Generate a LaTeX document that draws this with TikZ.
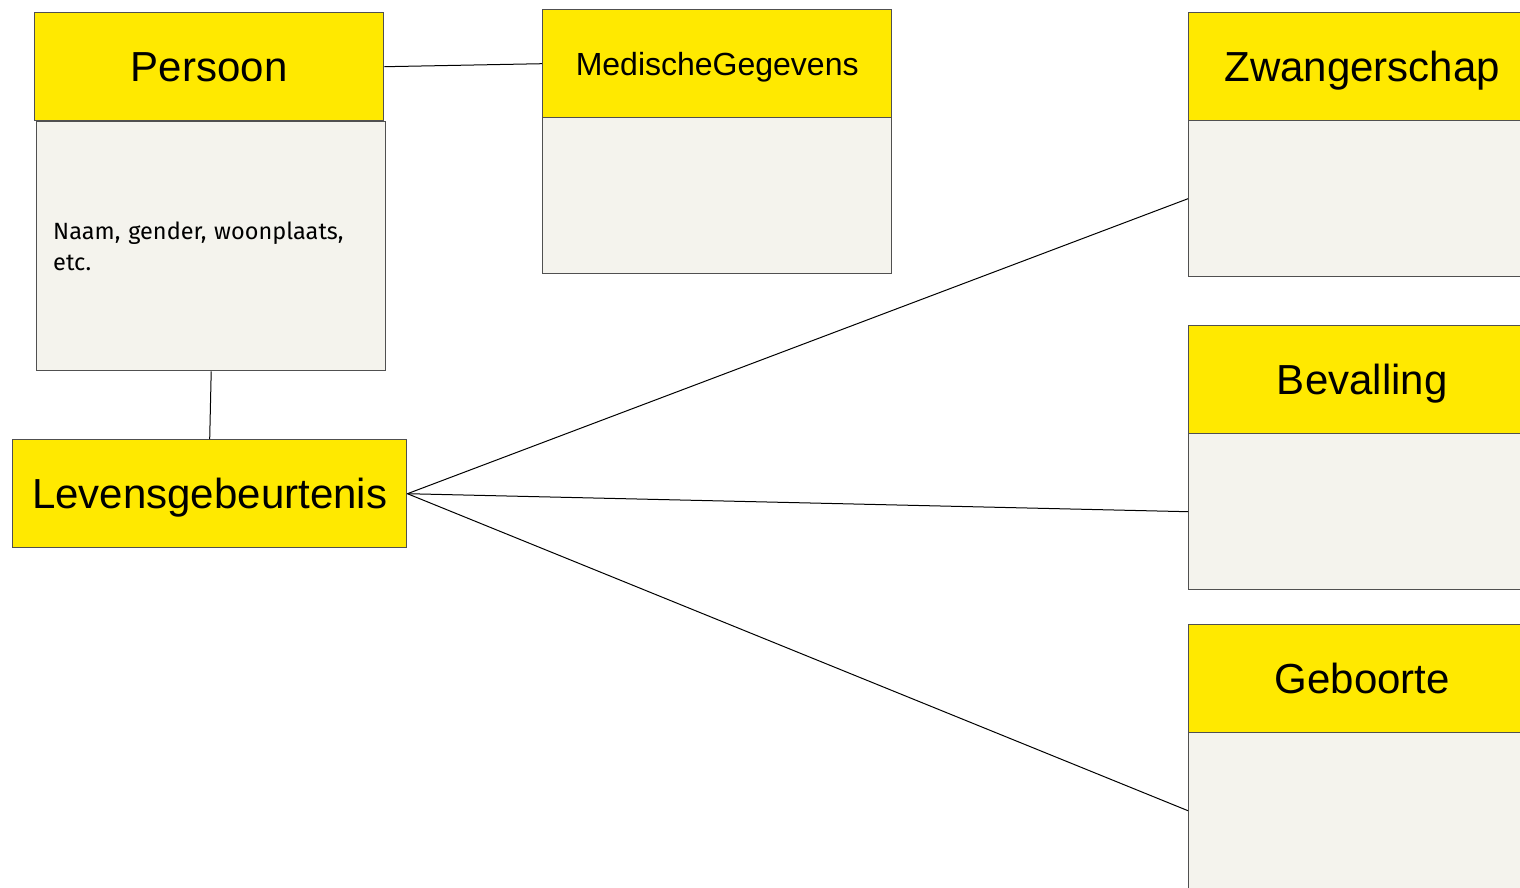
\documentclass[tikz,border=0pt]{standalone}
\usepackage{fontspec}
\setmainfont{Liberation Sans}
\newfontfamily\bodyfont{Fira Sans}
\definecolor{hdr}{HTML}{FFE900}
\definecolor{bdy}{HTML}{F4F3ED}
\definecolor{brd}{HTML}{505050}
\begin{document}
\begin{tikzpicture}[x=1pt,y=-1pt,
  hdrbox/.style={draw=brd,line width=1.4pt,fill=hdr,anchor=north west,inner sep=0pt,text depth=0pt,minimum width=#1,minimum height=108pt},
  bdybox/.style={draw=brd,line width=1.4pt,fill=bdy,anchor=north west,inner sep=0pt,minimum width=349pt},
  conn/.style={draw=black,line width=1pt}]
\useasboundingbox (0,0) rectangle (1520,887);
% Persoon
\node[bdybox,minimum height=249pt] (persb) at (36,121) {};
\node[hdrbox=349pt,font=\fontsize{42}{48}\selectfont] (pers) at (34,12) {Persoon};
\node[anchor=north west,align=left,text width=320pt,font=\bodyfont\fontsize{23.5}{31}\selectfont,inner sep=0pt] (perst) at (53,222) {Naam, gender, woonplaats,\\etc.};
% MedischeGegevens
\node[bdybox,minimum height=156pt] (medb) at (542,117) {};
\node[hdrbox=349pt,font=\fontsize{32}{38}\selectfont] (med) at (542,9) {MedischeGegevens};
% Zwangerschap
\node[bdybox,minimum height=156pt] (zwb) at (1188,120) {};
\node[hdrbox=347pt,font=\fontsize{42}{48}\selectfont] (zw) at (1188,12) {Zwangerschap};
% Bevalling
\node[bdybox,minimum height=156pt] (bevb) at (1188,433) {};
\node[hdrbox=347pt,font=\fontsize{42}{48}\selectfont] (bev) at (1188,325) {Bevalling};
% Geboorte
\node[bdybox,minimum height=156pt] (gebb) at (1188,732) {};
\node[hdrbox=347pt,font=\fontsize{42}{48}\selectfont] (geb) at (1188,624) {Geboorte};
% Levensgebeurtenis
\node[hdrbox=394pt,font=\fontsize{42}{48}\selectfont] (lev) at (12,439) {Levensgebeurtenis};
% connectors
\draw[conn] (pers.east) -- (med.west);
\draw[conn] (persb.south) -- (lev.north);
\draw[conn] (lev.east) -- (zwb.west);
\draw[conn] (lev.east) -- (bevb.west);
\draw[conn] (lev.east) -- (gebb.west);
\end{tikzpicture}
\end{document}
